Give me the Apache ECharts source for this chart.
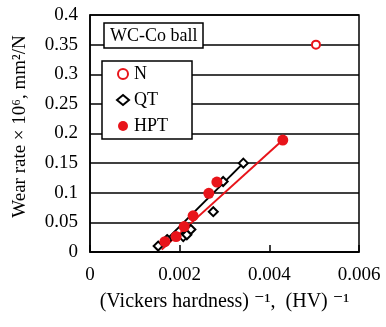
<!DOCTYPE html>
<html>
<head>
<meta charset="utf-8">
<script src="https://cdn.jsdelivr.net/npm/echarts@6/dist/echarts.min.js"></script>
<style>
  html, body { margin: 0; padding: 0; background: #fff; }
  #chart { width: 386px; height: 327px; }
</style>
</head>
<body>
<div id="chart"></div>
<script>
const FONT = '"Liberation Serif", "DejaVu Serif", serif';

// data
const nX = [0.00504];
const nY = [0.35];

const qtX = [0.00152, 0.00172, 0.00208, 0.00216, 0.00225, 0.00275, 0.00297, 0.00342];
const qtY = [0.010, 0.021, 0.026, 0.029, 0.038, 0.068, 0.119, 0.150];

const hptX = [0.00167, 0.00192, 0.0021, 0.0023, 0.00265, 0.00283, 0.0043];
const hptY = [0.0175, 0.026, 0.043, 0.061, 0.099, 0.118, 0.189];

const qtFitX = [0.00152, 0.00342];
const qtFitY = [0.007, 0.150];
const hptFitX = [0.0016, 0.0043];
const hptFitY = [0.004, 0.189];

const xTickLabels = ['0', '0.002', '0.004', '0.006'];
const yTickLabels = ['0', '0.05', '0.1', '0.15', '0.2', '0.25', '0.3', '0.35', '0.4'];

const chart = echarts.init(document.getElementById('chart'));

function pairs(xs, ys) {
  return xs.map((x, i) => [x, ys[i]]);
}

const option = {
  animation: false,
  backgroundColor: '#fff',
  textStyle: { fontFamily: FONT, color: '#000' },
  title: {
    text: 'WC-Co ball',
    left: 104,
    top: 23,
    padding: [4, 6, 3, 6],
    borderColor: '#000',
    borderWidth: 1.5,
    backgroundColor: '#fff',
    textStyle: { fontFamily: FONT, fontSize: 18, fontWeight: 'normal', color: '#000' },
  },
  legend: {
    orient: 'vertical',
    left: 102,
    top: 61,
    padding: [4, 24, 4, 14],
    itemGap: 8,
    itemWidth: 12,
    itemHeight: 10,
    borderColor: '#000',
    borderWidth: 1.5,
    backgroundColor: '#fff',
    textStyle: { fontFamily: FONT, fontSize: 18, color: '#000' },
    data: [
      { name: 'N', icon: 'circle', itemStyle: { color: '#fff', borderColor: '#e8141a', borderWidth: 2 } },
      { name: 'QT', icon: 'diamond', itemStyle: { color: '#fff', borderColor: '#000', borderWidth: 2 } },
      { name: 'HPT', icon: 'circle', itemStyle: { color: '#e8141a' } },
    ],
  },
  grid: {
    left: 90,
    right: 27,
    top: 15,
    bottom: 75,
    outerBoundsMode: 'none',
    show: true,
    borderColor: '#000',
    borderWidth: 1.5,
  },
  xAxis: {
    type: 'value',
    min: 0,
    max: 0.006,
    interval: 0.002,
    axisLine: { show: true, lineStyle: { color: '#000', width: 1.5 } },
    axisTick: { show: true, inside: true, length: 7, lineStyle: { color: '#000', width: 1.5 } },
    splitLine: { show: false },
    axisLabel: {
      margin: 14,
      fontFamily: FONT,
      fontSize: 19,
      color: '#000',
      formatter: (v) => xTickLabels[Math.round(v / 0.002)],
    },
    name: '(Vickers hardness) ⁻¹,  (HV) ⁻¹',
    nameLocation: 'middle',
    nameGap: 40,
    nameTextStyle: { fontFamily: FONT, fontSize: 20, color: '#000' },
  },
  yAxis: {
    type: 'value',
    min: 0,
    max: 0.4,
    interval: 0.05,
    axisLine: { show: true, lineStyle: { color: '#000', width: 1.5 } },
    axisTick: { show: false },
    splitLine: { show: true, lineStyle: { color: '#000', width: 1.5 } },
    axisLabel: {
      margin: 12,
      fontFamily: FONT,
      fontSize: 19,
      color: '#000',
      formatter: (v) => yTickLabels[Math.round(v / 0.05)],
    },
    name: 'Wear rate × 10⁶, mm²/N',
    nameLocation: 'middle',
    nameGap: 60,
    nameRotate: 90,
    nameTextStyle: { fontFamily: FONT, fontSize: 19, color: '#000', padding: [0, 0, 0, 14] },
  },
  series: [
    {
      name: 'QT fit',
      type: 'line',
      data: pairs(qtFitX, qtFitY),
      symbol: 'none',
      lineStyle: { color: '#000', width: 2 },
      silent: true,
      z: 2,
    },
    {
      name: 'HPT fit',
      type: 'line',
      data: pairs(hptFitX, hptFitY),
      symbol: 'none',
      lineStyle: { color: '#e8141a', width: 2 },
      silent: true,
      z: 2,
    },
    {
      name: 'N',
      type: 'scatter',
      data: pairs(nX, nY),
      symbol: 'circle',
      symbolSize: 8,
      itemStyle: { color: '#fff', borderColor: '#e8141a', borderWidth: 2, opacity: 1 },
      z: 3,
    },
    {
      name: 'QT',
      type: 'scatter',
      data: pairs(qtX, qtY),
      symbol: 'diamond',
      symbolSize: 9,
      itemStyle: { color: '#fff', borderColor: '#000', borderWidth: 2, opacity: 1 },
      z: 4,
    },
    {
      name: 'HPT',
      type: 'scatter',
      data: pairs(hptX, hptY),
      symbol: 'circle',
      symbolSize: 11,
      itemStyle: { color: '#e8141a', opacity: 1 },
      z: 5,
    },
  ],
};

chart.setOption(option);

window.addEventListener('resize', () => {
  chart.resize();
});
</script>
</body>
</html>
